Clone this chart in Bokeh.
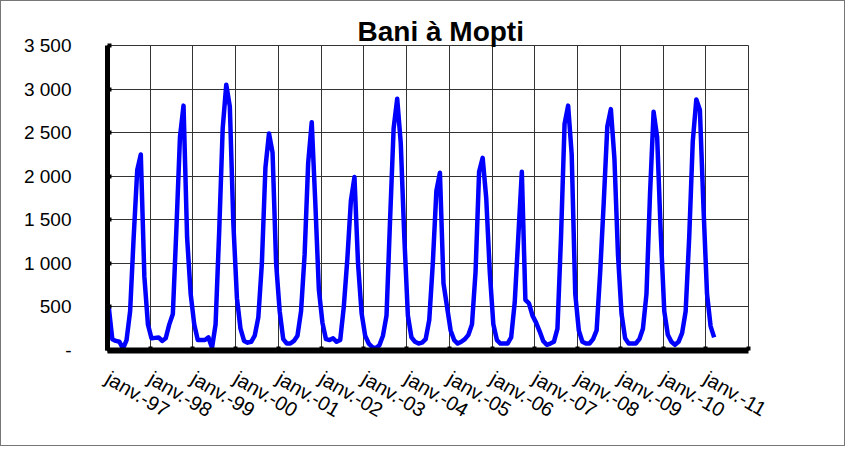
from bokeh.plotting import figure
from bokeh.models import FixedTicker, Range1d
from bokeh.embed import file_html
from bokeh.resources import INLINE

# Monthly discharge of the Bani at Mopti (m3/s), Jan 1997 - Mar 2011
flow_1997 = [500, 130, 110, 100, 20, 120, 450, 1300, 2070, 2250, 850, 300]
flow_1998 = [140, 145, 150, 110, 140, 300, 420, 1400, 2450, 2810, 1300, 650]
flow_1999 = [300, 120, 120, 120, 150, 30, 300, 1350, 2550, 3050, 2800, 1450]
flow_2000 = [600, 250, 110, 90, 100, 170, 380, 1000, 2100, 2490, 2270, 1000]
flow_2001 = [450, 130, 80, 80, 110, 170, 450, 1100, 2150, 2620, 1700, 700]
flow_2002 = [320, 130, 120, 140, 100, 120, 500, 1050, 1720, 1990, 1000, 430]
flow_2003 = [170, 80, 40, 25, 60, 170, 400, 1500, 2550, 2890, 2380, 1300]
flow_2004 = [400, 150, 100, 80, 90, 130, 350, 1000, 1830, 2040, 770, 500]
flow_2005 = [230, 120, 80, 100, 130, 180, 300, 900, 2050, 2210, 1750, 900]
flow_2006 = [300, 120, 80, 80, 80, 150, 550, 1300, 2050, 580, 540, 400]
flow_2007 = [320, 220, 110, 65, 80, 100, 250, 1300, 2600, 2810, 2250, 650]
flow_2008 = [230, 100, 80, 80, 130, 230, 900, 1700, 2570, 2770, 2200, 1100]
flow_2009 = [420, 140, 80, 80, 80, 130, 250, 650, 1800, 2740, 2450, 1350]
flow_2010 = [450, 180, 100, 65, 100, 200, 450, 1300, 2400, 2880, 2760, 1650]
flow_2011 = [650, 280, 150]

x_tick_labels = ["janv.-97", "janv.-98", "janv.-99", "janv.-00", "janv.-01",
                 "janv.-02", "janv.-03", "janv.-04", "janv.-05", "janv.-06",
                 "janv.-07", "janv.-08", "janv.-09", "janv.-10", "janv.-11", ""]
y_tick_values = [0, 500, 1000, 1500, 2000, 2500, 3000, 3500]
y_tick_labels = ["-", "500", "1 000", "1 500", "2 000", "2 500", "3 000", "3 500"]
title_text = "Bani à Mopti"

flow = (flow_1997 + flow_1998 + flow_1999 + flow_2000 + flow_2001 + flow_2002 +
        flow_2003 + flow_2004 + flow_2005 + flow_2006 + flow_2007 + flow_2008 +
        flow_2009 + flow_2010 + flow_2011)
MONTH_OFFSET = 0.35  # reading date within the month
months = [i + MONTH_OFFSET for i in range(len(flow))]
x_ticks = [12 * i for i in range(len(x_tick_labels))]

p = figure(width=845, height=446, x_range=Range1d(0, 180), y_range=Range1d(0, 3500),
           output_backend="svg", toolbar_location=None,
           min_border_left=106, min_border_right=98, min_border_top=44, min_border_bottom=97)
p.title.text = title_text
p.title.text_font = "Liberation Sans"
p.title.text_font_style = "bold"
p.title.text_font_size = "28px"
p.title.text_color = "black"
p.title.align = "left"
p.title.offset = 250
p.title.standoff = -3
p.background_fill_color = "white"
p.border_fill_color = "white"
p.outline_line_color = "#333333"
p.styles = {"border": "1px solid #777777"}

p.line(months, flow, line_color="#0000FF", line_width=4.5, line_join="round")

p.xaxis.ticker = FixedTicker(ticks=x_ticks)
p.xaxis.major_label_overrides = {t: lab for t, lab in zip(x_ticks, x_tick_labels)}
p.yaxis.ticker = FixedTicker(ticks=y_tick_values)
p.yaxis.major_label_overrides = {t: lab for t, lab in zip(y_tick_values, y_tick_labels)}
p.xgrid.ticker = FixedTicker(ticks=x_ticks)
p.ygrid.ticker = FixedTicker(ticks=y_tick_values)
for g in (p.xgrid, p.ygrid):
    g.grid_line_color = "#333333"
    g.grid_line_width = 1
    g.grid_line_alpha = 1

for ax in (p.xaxis, p.yaxis):
    ax.axis_line_color = "black"
    ax.major_tick_in = 4
    ax.major_tick_out = 0
    ax.major_tick_line_width = 4
    ax.major_tick_line_color = "black"
    ax.minor_tick_line_color = None
    ax.major_label_text_font = "Liberation Sans"
    ax.major_label_text_color = "black"

p.yaxis.major_label_text_font_size = "19px"
p.xaxis.major_label_text_font_size = "20px"
p.yaxis.axis_line_width = 5
p.xaxis.axis_line_width = 6
p.yaxis.major_label_standoff = 36
p.xaxis.major_label_standoff = 26
p.xaxis.major_label_orientation = -0.53

open("out.html", "w").write(file_html(p, INLINE))
